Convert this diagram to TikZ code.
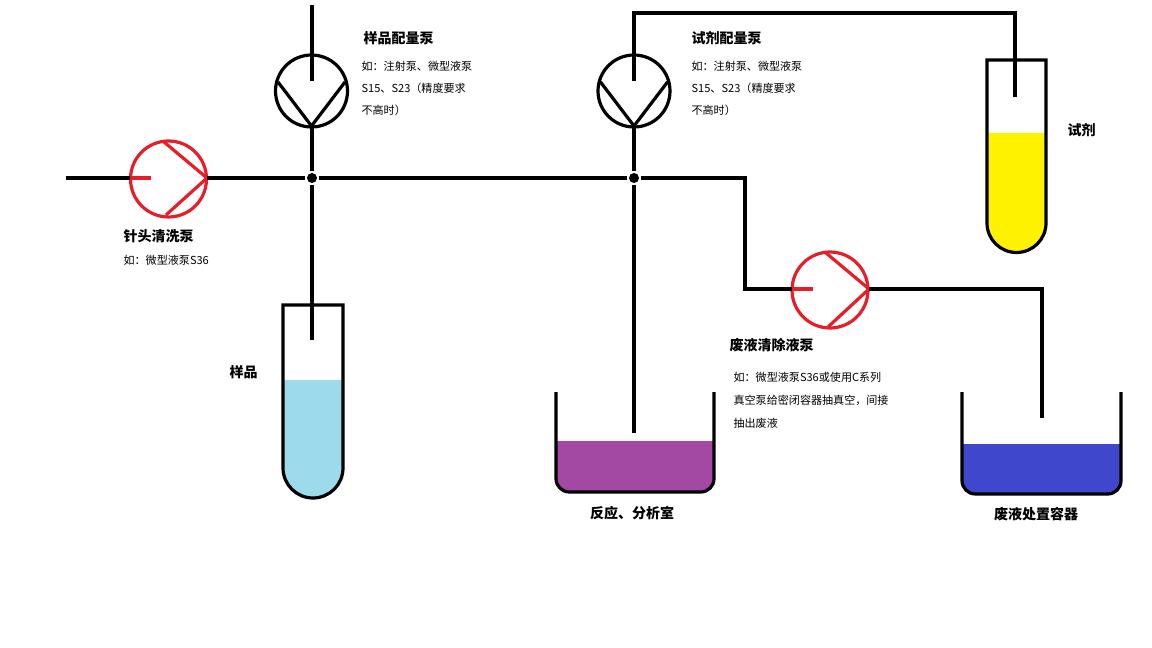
\documentclass[tikz,border=0pt]{standalone}
\usepackage{fontspec}
\setmainfont{Noto Sans CJK SC}
\begin{document}
\begin{tikzpicture}[x=0.75pt,y=-0.75pt,line width=2.4pt,
  lbl/.style={anchor=west,font=\fontsize{10.5}{12}\selectfont\bfseries,inner sep=0},
  sm/.style={anchor=west,font=\fontsize{8.3}{10}\selectfont,inner sep=0},
  dot/.style={circle,fill=black,inner sep=0,minimum size=7.5pt}]
\useasboundingbox (0,0) rectangle (1152,648);
\definecolor{pred}{RGB}{230,30,40}
\definecolor{lblue}{RGB}{157,218,235}
\definecolor{yel}{RGB}{255,242,0}
\definecolor{purp}{RGB}{163,73,164}
\definecolor{wblue}{RGB}{63,72,204}
% fills
\fill[lblue] (283,380) -- (343,380) -- (343,468) arc[start angle=0,end angle=180,radius=30] -- cycle;
\fill[yel] (987,133) -- (1046,133) -- (1046,223) arc[start angle=0,end angle=180,radius=29.5] -- cycle;
\begin{scope}
\clip (500,441) rectangle (760,520);
\fill[purp,rounded corners=10pt] (556,392) -- (556,492) -- (714,492) -- (714,392) -- cycle;
\end{scope}
\begin{scope}
\clip (900,444) rectangle (1150,520);
\fill[wblue,rounded corners=10pt] (962,392) -- (962,494) -- (1121,494) -- (1121,392) -- cycle;
\end{scope}
% containers
\draw (283,305) -- (343,305) -- (343,468) arc[start angle=0,end angle=180,radius=30] -- cycle;
\draw (987,60) -- (1046,60) -- (1046,223) arc[start angle=0,end angle=180,radius=29.5] -- cycle;
\draw[rounded corners=10pt] (556,392) -- (556,492) -- (714,492) -- (714,392);
\draw[rounded corners=10pt] (962,392) -- (962,494) -- (1121,494) -- (1121,392);
% pumps
\node (p1) at (168.5,179) {};
\draw[pred] (168.5,179) circle[radius=38];
\draw[pred] (164,142) -- (207,178) -- (166,215);
\draw[pred] (130,178) -- (151,178);
\node (p2) at (311.5,91) {};
\draw (311.5,91) circle[radius=36];
\draw (278,82) -- (311.5,126) -- (345,82);
\draw (312,5) -- (312,81);
\node (p3) at (634,91) {};
\draw (634,91) circle[radius=36];
\draw (600.5,82) -- (634,126) -- (667.5,82);
\draw (634,55) -- (634,81);
\node (p4) at (830,290) {};
\draw[pred] (830,290) circle[radius=38];
\draw[pred] (826,253) -- (869,289) -- (828,327);
\draw[pred] (792,289) -- (813,289);
% pipes
\node[dot] (j1) at (312,178) {};
\node[dot] (j2) at (634,178) {};
\draw (66,178) -- (130,178);
\draw (207,178) -- (j1) -- (j2) -- (745,178) -- (745,289) -- (792,289);
\draw (312,126) -- (j1) -- (312,340);
\draw (634,126) -- (j2) -- (634,433);
\draw (634,55) -- (634,13) -- (1015,13) -- (1015,97);
\draw (869,289) -- (1042,289) -- (1042,418);
% texts
\node[lbl] at (362,38) {样品配量泵};
\node[sm] at (360,66) {如：注射泵、微型液泵};
\node[sm] at (360,88) {S15、S23（精度要求};
\node[sm] at (360,110) {不高时）};
\node[lbl] at (690,38) {试剂配量泵};
\node[sm] at (690,66) {如：注射泵、微型液泵};
\node[sm] at (690,88) {S15、S23（精度要求};
\node[sm] at (690,110) {不高时）};
\node[lbl] at (122,236) {针头清洗泵};
\node[sm] at (122,260) {如：微型液泵S36};
\node[lbl] at (228,372) {样品};
\node[lbl] at (1066,130) {试剂};
\node[lbl] at (728,345) {废液清除液泵};
\node[sm] at (732,377) {如：微型液泵S36或使用C系列};
\node[sm] at (732,400) {真空泵给密闭容器抽真空，间接};
\node[sm] at (732,423) {抽出废液};
\node[lbl,anchor=center] at (632,513) {反应、分析室};
\node[lbl,anchor=center] at (1036,514) {废液处置容器};
\end{tikzpicture}
\end{document}
